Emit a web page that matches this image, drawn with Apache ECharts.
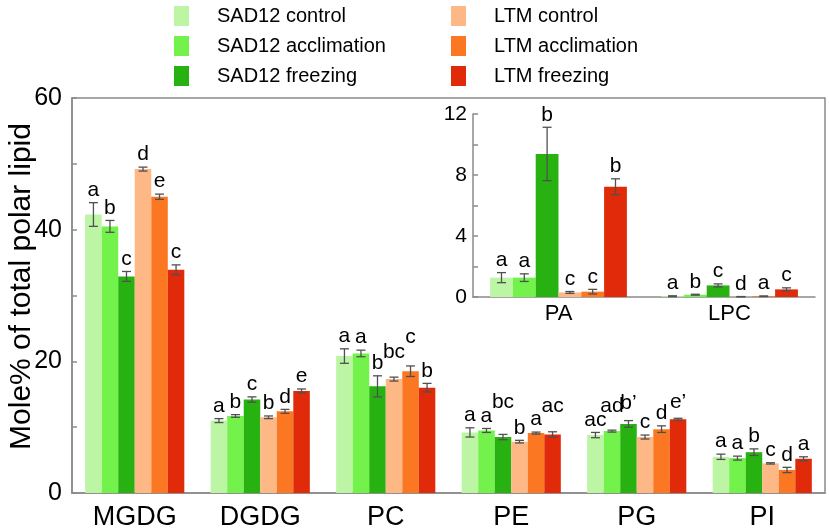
<!DOCTYPE html>
<html><head><meta charset="utf-8">
<script src="https://cdn.jsdelivr.net/npm/echarts@6/dist/echarts.min.js"></script>
<style>html,body{margin:0;padding:0;background:#fff}#c{width:829px;height:528px}</style>
</head><body><div id="c"></div>
<script>
// ---------- DATA ----------
const treatments = ['SAD12 control', 'SAD12 acclimation', 'SAD12 freezing', 'LTM control', 'LTM acclimation', 'LTM freezing'];
const mainCategories = ['MGDG', 'DGDG', 'PC', 'PE', 'PG', 'PI'];
const insetCategories = ['PA', 'LPC'];
const mainTicks = [0, 20, 40, 60];
const insetTicks = [0, 4, 8, 12];

// main values, one array per treatment (order of mainCategories)
const sad12ControlMain     = [42.3, 11.0, 20.8, 9.2, 8.8, 5.5];
const sad12AcclimationMain = [40.5, 11.7, 21.2, 9.5, 9.4, 5.3];
const sad12FreezingMain    = [32.9, 14.2, 16.2, 8.5, 10.5, 6.2];
const ltmControlMain       = [49.2, 11.5, 17.3, 7.8, 8.5, 4.5];
const ltmAcclimationMain   = [45.0, 12.4, 18.5, 9.1, 9.7, 3.5];
const ltmFreezingMain      = [33.9, 15.5, 16.0, 8.9, 11.2, 5.2];
// main error (±)
const sad12ControlMainErr     = [1.8, 0.3, 1.1, 0.7, 0.4, 0.4];
const sad12AcclimationMainErr = [0.9, 0.2, 0.5, 0.3, 0.15, 0.3];
const sad12FreezingMainErr    = [0.75, 0.4, 1.6, 0.4, 0.5, 0.5];
const ltmControlMainErr       = [0.3, 0.2, 0.3, 0.2, 0.3, 0.1];
const ltmAcclimationMainErr   = [0.4, 0.3, 0.8, 0.15, 0.5, 0.4];
const ltmFreezingMainErr      = [0.75, 0.3, 0.65, 0.4, 0.15, 0.3];
// inset values (PA, LPC)
const sad12ControlInset     = [1.27, 0.05];
const sad12AcclimationInset = [1.27, 0.15];
const sad12FreezingInset    = [9.38, 0.76];
const ltmControlInset       = [0.30, 0.02];
const ltmAcclimationInset   = [0.35, 0.05];
const ltmFreezingInset      = [7.23, 0.50];
const sad12ControlInsetErr     = [0.33, 0.03];
const sad12AcclimationInsetErr = [0.25, 0.03];
const sad12FreezingInsetErr    = [1.75, 0.10];
const ltmControlInsetErr       = [0.06, 0.01];
const ltmAcclimationInsetErr   = [0.15, 0.02];
const ltmFreezingInsetErr      = [0.52, 0.10];
// significance letters per category (order of treatments)
const mainLetters = [
  ['a','b','c','d','e','c'],
  ['a','b','c','b','d','e'],
  ['a','a','b','bc','c','b'],
  ['a','a','bc','b','a','ac'],
  ['ac','ad',"b\u2019",'c','d',"e\u2019"],
  ['a','a','b','c','d','a']
];
const insetLetters = [
  ['a','a','b','c','c','b'],
  ['a','b','c','d','a','c']
];

// ---------- LAYOUT / STYLE ----------
const colors = ['#bcf5a4', '#72f24b', '#28b212', '#fdb886', '#fc7722', '#e02a0a'];
const FONT = 'Liberation Sans, Arial, sans-serif';
const AX = '#8a8a8a';
// extra vertical lift (px) of some letters, per main category & treatment
const labelLift = [
  [0,0,0,0,0,0],
  [0,0,0,0,0,0],
  [0,0,0,12,16,0],
  [0,0,20,0,0,13],
  [0,11,5,0,0,4],
  [0,0,0,0,0,0]
];

const mainVals = [sad12ControlMain, sad12AcclimationMain, sad12FreezingMain, ltmControlMain, ltmAcclimationMain, ltmFreezingMain];
const mainErrs = [sad12ControlMainErr, sad12AcclimationMainErr, sad12FreezingMainErr, ltmControlMainErr, ltmAcclimationMainErr, ltmFreezingMainErr];
const insetVals = [sad12ControlInset, sad12AcclimationInset, sad12FreezingInset, ltmControlInset, ltmAcclimationInset, ltmFreezingInset];
const insetErrs = [sad12ControlInsetErr, sad12AcclimationInsetErr, sad12FreezingInsetErr, ltmControlInsetErr, ltmAcclimationInsetErr, ltmFreezingInsetErr];

const MAIN_GAP = 0.21, INSET_GAP = 0.20;

function buildItems(vals, errs, letters, lifts) {
  const data = [], meta = [];
  for (let c = 0; c < letters.length; c++) {
    for (let s = 0; s < vals.length; s++) {
      data.push([c, s, vals[s][c], errs[s][c]]);
      meta.push({ letter: letters[c][s], lift: lifts ? lifts[c][s] : 0 });
    }
  }
  return { data, meta };
}
const mainItems = buildItems(mainVals, mainErrs, mainLetters, labelLift);
const insetItems = buildItems(insetVals, insetErrs, insetLetters, null);

function makeRender(meta, gap, fontSize) {
  return function (params, api) {
    const c = api.value(0), s = api.value(1), v = api.value(2), e = api.value(3);
    const bw = api.size([1, 0])[0] * (1 - gap) / 6;
    const base = api.coord([c, v]);
    const x = base[0] + (s - 2.5) * bw;
    const yT = api.coord([c, v + e])[1];
    const yB = api.coord([c, Math.max(0, v - e)])[1];
    const cap = 4.5;
    const ls = { stroke: '#505050', lineWidth: 1.3 };
    const m = meta[params.dataIndex];
    return {
      type: 'group',
      children: [
        { type: 'line', shape: { x1: x, y1: yT, x2: x, y2: yB }, style: ls },
        { type: 'line', shape: { x1: x - cap, y1: yT, x2: x + cap, y2: yT }, style: ls },
        { type: 'line', shape: { x1: x - cap, y1: yB, x2: x + cap, y2: yB }, style: ls },
        { type: 'text', style: { text: m.letter, x: x, y: yT - 2 - m.lift, align: 'center', verticalAlign: 'bottom',
            fontSize: fontSize, fontFamily: FONT, fill: '#000' } }
      ]
    };
  };
}

const series = [];
treatments.forEach((name, i) => {
  series.push({ name, type: 'bar', xAxisIndex: 0, yAxisIndex: 0, data: mainVals[i],
    itemStyle: { color: colors[i] }, barGap: '0%', barCategoryGap: (MAIN_GAP * 100) + '%', silent: true });
});
treatments.forEach((name, i) => {
  series.push({ name, type: 'bar', xAxisIndex: 1, yAxisIndex: 1, data: insetVals[i],
    itemStyle: { color: colors[i] }, barGap: '0%', barCategoryGap: (INSET_GAP * 100) + '%', silent: true });
});
series.push({ type: 'custom', xAxisIndex: 0, yAxisIndex: 0, data: mainItems.data, encode: { x: 0, y: 2 },
  renderItem: makeRender(mainItems.meta, MAIN_GAP, 21), z: 5, silent: true });
series.push({ type: 'custom', xAxisIndex: 1, yAxisIndex: 1, data: insetItems.data, encode: { x: 0, y: 2 },
  renderItem: makeRender(insetItems.meta, INSET_GAP, 21), z: 5, silent: true });

const legendCommon = { orient: 'vertical', top: 1, icon: 'rect', itemWidth: 15, itemHeight: 20, itemGap: 10,
  selectedMode: false, textStyle: { fontSize: 20, fontFamily: FONT, color: '#000', padding: [0, 0, 0, 23] } };

const option = {
  animation: false,
  backgroundColor: '#fff',
  legend: [
    Object.assign({}, legendCommon, { left: 169, data: treatments.slice(0, 3) }),
    Object.assign({}, legendCommon, { left: 446, data: treatments.slice(3) })
  ],
  grid: [
    { left: 72, right: 4, top: 98, bottom: 35, show: true, borderColor: AX, borderWidth: 1.5,
      backgroundColor: 'transparent', containLabel: false, outerBoundsMode: 'none' },
    { left: 473, top: 114, width: 342, height: 183, containLabel: false, outerBoundsMode: 'none' }
  ],
  xAxis: [
    { type: 'category', gridIndex: 0, data: mainCategories,
      axisLine: { lineStyle: { color: AX, width: 1.5 } },
      axisTick: { inside: true, length: 5, lineStyle: { color: AX, width: 1.5 } },
      axisLabel: { fontSize: 27, fontFamily: FONT, color: '#000', margin: 11 } },
    { type: 'category', gridIndex: 1, data: insetCategories,
      axisLine: { lineStyle: { color: AX, width: 1.5 } },
      axisTick: { inside: true, length: 5, lineStyle: { color: AX, width: 1.5 } },
      axisLabel: { fontSize: 22, fontFamily: FONT, color: '#000', margin: 6 } }
  ],
  yAxis: [
    { type: 'value', gridIndex: 0, min: 0, max: 60, interval: 10,
      name: 'Mole% of total polar lipid', nameLocation: 'middle', nameGap: 35, nameMoveOverlap: false,
      nameTextStyle: { fontSize: 30, fontFamily: FONT, color: '#000', padding: [0, 0, 0, 18] },
      axisLine: { show: true, lineStyle: { color: AX, width: 1.5 } },
      axisTick: { show: true, inside: true, length: 5, lineStyle: { color: AX, width: 1.5 } },
      splitLine: { show: false },
      axisLabel: { fontSize: 25, fontFamily: FONT, color: '#000', margin: 10,
        formatter: v => mainTicks.indexOf(v) >= 0 ? String(v) : '' } },
    { type: 'value', gridIndex: 1, min: 0, max: 12, interval: 2,
      axisLine: { show: true, lineStyle: { color: AX, width: 1.5 } },
      axisTick: { show: true, inside: true, length: 5, lineStyle: { color: AX, width: 1.5 } },
      splitLine: { show: false },
      axisLabel: { fontSize: 21, fontFamily: FONT, color: '#000', margin: 6,
        formatter: v => insetTicks.indexOf(v) >= 0 ? String(v) : '' } }
  ],
  series
};
echarts.init(document.getElementById('c'), null, { renderer: 'canvas' }).setOption(option);
</script>
</body></html>
